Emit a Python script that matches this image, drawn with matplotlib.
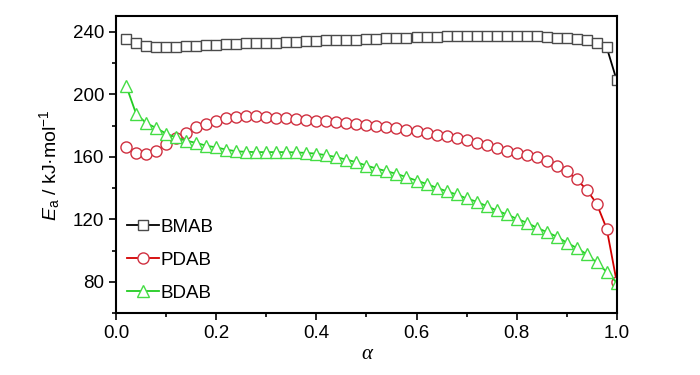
import numpy as np
import matplotlib
matplotlib.use("Agg")
import matplotlib.pyplot as plt
from matplotlib.ticker import MultipleLocator, FormatStrFormatter

plt.rcParams['font.family'] = ['Liberation Sans', 'DejaVu Sans']
plt.rcParams['mathtext.fontset'] = 'custom'
plt.rcParams['mathtext.rm'] = 'Liberation Sans'
plt.rcParams['mathtext.it'] = 'Liberation Sans:italic'

# conversion degree alpha, 0.02 .. 1.00
alpha = [round(0.02 * i, 2) for i in range(1, 51)]

# activation energy, kJ/mol
bmab = [235.5, 232.5, 231.0, 230.5, 230.5, 230.5, 231.0, 231.0, 231.5, 231.5,
        232.0, 232.0, 232.5, 232.5, 233.0, 233.0, 233.5, 233.5, 234.0, 234.0,
        234.5, 234.5, 235.0, 235.0, 235.5, 235.5, 236.0, 236.0, 236.0, 236.5,
        236.5, 236.5, 237.0, 237.0, 237.0, 237.0, 237.0, 237.0, 237.0, 237.0,
        237.0, 237.0, 236.5, 236.0, 236.0, 235.5, 234.5, 233.0, 230.0, 209.0]
pdab = [166.0, 162.5, 161.5, 164.0, 168.0, 172.0, 175.5, 178.8, 180.8, 183.0,
        184.8, 185.5, 185.8, 185.8, 185.4, 185.0, 184.6, 184.2, 183.6, 183.2,
        182.7, 182.2, 181.6, 181.0, 180.5, 179.8, 179.0, 178.2, 177.3, 176.3,
        175.3, 174.2, 173.0, 171.8, 170.5, 169.0, 167.5, 165.8, 164.0, 162.5,
        161.3, 159.6, 157.3, 154.4, 150.8, 145.5, 139.0, 130.0, 114.0, 80.0]
bdab = [205.4, 187.3, 181.6, 178.4, 174.8, 172.4, 170.3, 168.9, 167.1, 166.0,
        164.6, 163.5, 163.2, 163.0, 163.0, 163.0, 163.0, 162.8, 162.5, 162.0,
        161.0, 159.8, 158.2, 156.5, 154.4, 152.5, 150.8, 149.1, 147.0, 144.8,
        142.7, 140.2, 138.0, 135.9, 133.4, 131.3, 128.5, 125.7, 123.2, 120.4,
        117.9, 114.7, 111.9, 109.0, 105.1, 101.7, 97.7, 92.4, 86.4, 79.5]

fig = plt.figure(figsize=(7, 3.75), dpi=100)
ax = fig.add_axes([0.166, 0.165, 0.715, 0.792])

ax.plot(alpha, bmab, '-', color='black', lw=1.3, marker='s', ms=6.5,
        mfc='white', mec='#4a4a4a', mew=1.0, label='BMAB')
ax.plot(alpha, pdab, '-', color='#d40000', lw=1.3, marker='o', ms=8,
        mfc='white', mec='#d03040', mew=1.0, label='PDAB')
ax.plot(alpha, bdab, '-', color='#22cc22', lw=1.3, marker='^', ms=8.5,
        mfc='white', mec='#44dd44', mew=1.0, label='BDAB')

ax.set_xlim(0, 1.0)
ax.set_ylim(60, 250)
ax.xaxis.set_major_locator(MultipleLocator(0.2))
ax.xaxis.set_minor_locator(MultipleLocator(0.1))
ax.xaxis.set_major_formatter(FormatStrFormatter('%.1f'))
ax.set_yticks([80, 120, 160, 200, 240])
ax.yaxis.set_minor_locator(MultipleLocator(20))
ax.tick_params(which='major', direction='out', length=5, width=1.2, labelsize=13.5)
ax.tick_params(which='minor', direction='out', length=3, width=1.2)
for s in ax.spines.values():
    s.set_linewidth(1.5)

ax.set_xlabel('α', family='Liberation Serif', style='italic', fontsize=15, labelpad=2)
ax.set_ylabel(r'$E_\mathrm{a}$ / kJ·mol$^{\mathrm{-1}}$', fontsize=14, labelpad=8)

ax.legend(loc='lower left', bbox_to_anchor=(0.0, 0.0), frameon=False, fontsize=13.5,
          handlelength=1.7, handletextpad=0.05, labelspacing=0.85, borderaxespad=0.2)

fig.savefig('out.png', dpi=100)
